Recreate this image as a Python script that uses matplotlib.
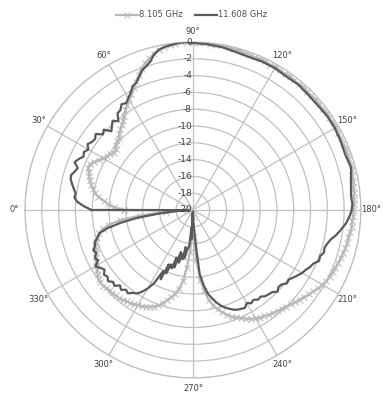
import numpy as np
import matplotlib.pyplot as plt
from matplotlib.transforms import ScaledTranslation

# radiation pattern, normalised gain in dB
angles_8ghz = [0, 2, 4, 6, 8, 10, 12, 14, 16, 18, 20, 22, 24, 26, 28, 30, 32, 34, 36, 38,
               40, 42, 44, 46, 48, 50, 52, 54, 56, 58, 60, 62, 64, 66, 68, 70, 72, 74, 76, 78,
               80, 82, 84, 86, 88, 90, 92, 94, 96, 98, 100, 102, 104, 106, 108, 110, 112, 114, 116, 118,
               120, 122, 124, 126, 128, 130, 132, 134, 136, 138, 140, 142, 144, 146, 148, 150, 152, 154, 156, 158,
               160, 162, 164, 166, 168, 170, 172, 174, 176, 178, 180, 182, 184, 186, 188, 190, 192, 194, 196, 198,
               200, 202, 204, 206, 208, 210, 212, 214, 216, 218, 220, 222, 224, 226, 228, 230, 232, 234, 236, 238,
               240, 242, 244, 246, 248, 250, 252, 254, 256, 258, 260, 262, 264, 266, 268, 270, 272, 274, 276, 278,
               280, 282, 284, 286, 288, 290, 292, 294, 296, 298, 300, 302, 304, 306, 308, 310, 312, 314, 316, 318,
               320, 322, 324, 326, 328, 330, 332, 334, 336, 338, 340, 342, 344, 346, 348, 350, 352, 354, 356, 358,
               360]
gain_8ghz = [-11.8, -10.6, -9.9, -9.3, -8.6, -8.1, -7.8, -7.5, -7.2, -7.0, -6.8, -6.5, -6.6, -6.9, -7.3, -7.7, -7.9, -8.1, -8.4, -8.3,
             -8.0, -7.8, -7.7, -7.4, -7.1, -6.8, -6.5, -6.1, -5.6, -5.2, -4.8, -4.4, -3.9, -3.3, -2.7, -2.1, -1.6, -1.2, -0.8, -0.5,
             -0.3, -0.2, -0.1, 0.0, 0.0, -0.1, -0.1, 0.0, -0.1, -0.2, -0.1, -0.2, -0.3, -0.2, -0.3, -0.3, -0.4, -0.3, -0.3, -0.4,
             -0.3, -0.4, -0.4, -0.3, -0.4, -0.4, -0.3, -0.4, -0.4, -0.3, -0.4, -0.4, -0.3, -0.4, -0.3, -0.3, -0.4, -0.4, -0.5, -0.4,
             -0.4, -0.5, -0.4, -0.5, -0.6, -0.6, -0.7, -0.7, -0.8, -0.8, -0.9, -0.9, -1.0, -1.0, -1.1, -1.2, -1.2, -1.3, -1.4, -1.5,
             -1.6, -1.7, -1.8, -1.9, -2.0, -2.2, -2.4, -2.7, -2.9, -3.2, -3.4, -3.6, -3.8, -4.0, -4.2, -4.3, -4.5, -4.6, -4.8, -4.9,
             -5.1, -5.3, -5.6, -5.9, -6.2, -6.5, -6.9, -7.3, -7.8, -8.4, -9.1, -10.2, -11.6, -14.0, -16.8, -19.2, -17.2, -15.0, -13.1, -11.4,
             -10.5, -9.8, -9.3, -8.8, -8.3, -7.9, -7.6, -7.4, -7.2, -7.0, -6.9, -6.8, -6.6, -6.6, -6.4, -6.3, -6.3, -6.2, -6.2, -6.1,
             -6.0, -6.0, -6.1, -6.3, -6.5, -6.7, -6.9, -7.1, -7.3, -7.5, -7.6, -7.8, -8.1, -8.5, -9.0, -9.8, -11.2, -13.6, -16.8, -19.3,
             -11.8]

angles_11ghz = [0, 2, 4, 6, 8, 10, 12, 14, 16, 18, 20, 22, 24, 26, 28, 30, 32, 34, 36, 38,
                40, 42, 44, 46, 48, 50, 52, 54, 56, 58, 60, 62, 64, 66, 68, 70, 72, 74, 76, 78,
                80, 82, 84, 86, 88, 90, 95, 100, 105, 110, 115, 120, 125, 130, 135, 140, 145, 150, 155, 160,
                165, 170, 175, 178, 180, 182, 185, 188, 190, 192, 194, 196, 198, 200, 202, 204, 206, 208, 210, 212,
                214, 216, 218, 220, 222, 224, 226, 228, 230, 232, 234, 236, 238, 240, 242, 244, 246, 248, 250, 252,
                254, 256, 258, 260, 262, 264, 265, 266, 268, 270, 271, 272, 273, 274, 276, 278, 280, 281, 282, 284,
                285, 286, 288, 289, 290, 292, 293, 294, 295, 296, 298, 300, 302, 304, 306, 308, 310, 312, 314, 316,
                318, 320, 322, 324, 326, 328, 330, 332, 334, 336, 338, 340, 342, 344, 346, 348, 350, 352, 354, 356,
                358, 360]
gain_11ghz = [-7.9, -7.0, -6.2, -5.8, -5.9, -5.6, -5.3, -5.0, -4.9, -5.2, -5.4, -4.8, -5.1, -5.5, -5.3, -5.6, -5.2, -5.5, -5.6, -5.3,
              -6.0, -5.7, -6.5, -6.1, -5.7, -6.2, -5.4, -5.3, -4.8, -5.0, -4.6, -4.2, -3.6, -3.4, -2.9, -2.3, -2.0, -1.6, -0.9, -0.5,
              -0.3, -0.2, -0.1, 0.0, 0.0, -0.1, -0.2, -0.3, -0.5, -0.6, -0.5, -0.5, -0.6, -0.5, -0.6, -0.6, -0.5, -0.5, -0.6, -0.7,
              -0.5, -0.9, -1.1, -1.0, -1.1, -1.3, -1.7, -2.3, -2.7, -3.2, -3.5, -3.7, -3.6, -3.9, -3.8, -4.3, -4.5, -4.8, -5.0, -5.3,
              -5.6, -5.9, -5.8, -6.2, -6.3, -6.0, -6.4, -6.5, -6.6, -6.9, -6.8, -7.1, -6.9, -7.2, -6.8, -6.9, -7.0, -7.2, -7.5, -7.8,
              -8.2, -8.7, -9.3, -9.9, -11.0, -12.3, -15.0, -17.0, -18.5, -19.6, -18.0, -19.8, -16.5, -18.0, -15.6, -15.3, -14.2, -15.5, -14.0, -14.6,
              -13.5, -14.8, -12.8, -14.0, -12.6, -13.0, -11.8, -12.9, -10.9, -11.9, -10.1, -9.2, -8.5, -8.0, -7.8, -7.4, -7.6, -7.2, -7.5, -7.0,
              -7.2, -6.8, -7.1, -6.9, -7.3, -7.0, -6.6, -7.2, -7.0, -7.4, -7.2, -7.6, -7.7, -8.2, -8.5, -9.6, -11.3, -13.3, -16.0, -18.0,
              -19.5, -7.9]

angle_ticks = list(range(0, 360, 30))
angle_labels = [f"{a}°" for a in angle_ticks]
gain_ticks = list(range(-20, 1, 2))

grid_col = "#c0c0c0"
text_col = "#404040"

fig = plt.figure(figsize=(3.83, 3.93), dpi=100)
ax = fig.add_axes([0.0653, 0.0382, 0.877, 0.855], projection="polar")
ax.set_theta_zero_location("W")
ax.set_theta_direction(-1)
ax.set_ylim(-20, 0)

ax.plot(np.deg2rad(angles_8ghz), gain_8ghz, color="#b8b8b8", lw=1.6, marker="x",
        markersize=5, markeredgewidth=0.7, label="8.105 GHz", zorder=3)
ax.plot(np.deg2rad(angles_11ghz), gain_11ghz, color="#5a5a5a", lw=1.6,
        label="11.608 GHz", zorder=4)

ax.set_thetagrids(angle_ticks, angle_labels, fontsize=6, color=text_col)
ax.tick_params(axis="x", pad=-3)
ax.set_yticks(gain_ticks)
ax.set_yticklabels([])
shift = ScaledTranslation(-1 / 100, 0, fig.dpi_scale_trans)
for g in gain_ticks:
    ax.text(np.deg2rad(90), g, str(g), fontsize=6.5, color=text_col,
            ha="right", va="center", zorder=5, transform=ax.transData + shift)
ax.grid(color=grid_col, lw=0.9)
ax.spines["polar"].set_color(grid_col)
ax.spines["polar"].set_linewidth(0.9)

fig.legend(loc="center", bbox_to_anchor=(0.5, 0.962), ncol=2, frameon=False,
           fontsize=6, handlelength=2.6, columnspacing=1.6, handletextpad=0.1,
           labelcolor="#505050")

fig.savefig("out.png", dpi=100)
